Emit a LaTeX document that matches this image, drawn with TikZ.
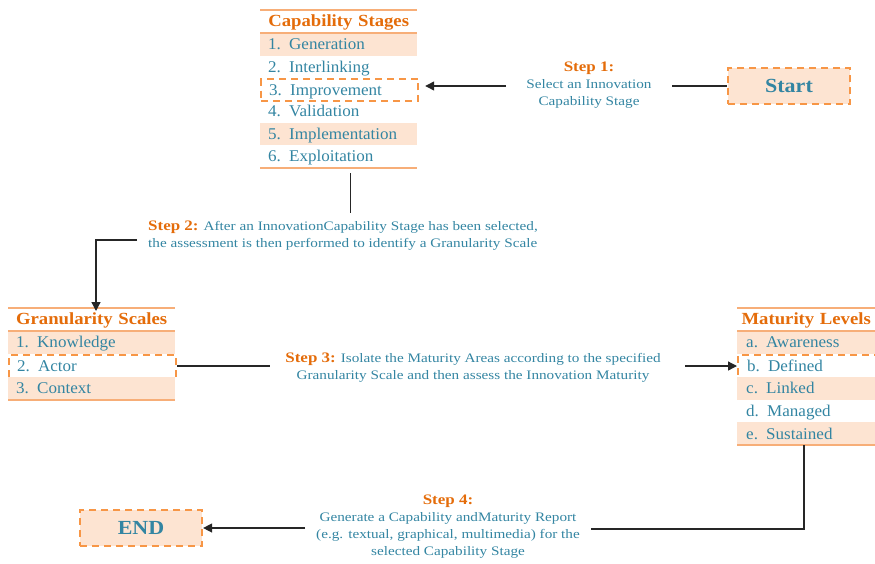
\documentclass[tikz,border=0pt]{standalone}
\usepackage{fontspec}
\setmainfont{Liberation Serif}
\newfontfamily\rowf{Liberation Serif}[FakeStretch=1.04]
\newfontfamily\ttlf{Liberation Serif}[FakeStretch=1.1]
\newfontfamily\stepf{Liberation Serif}[FakeStretch=1.17]
\usetikzlibrary{arrows.meta}
\definecolor{tealtxt}{HTML}{3385A2}
\definecolor{orgtxt}{HTML}{E46C0A}
\definecolor{peach}{HTML}{FDE4D2}
\definecolor{rulec}{HTML}{F7AE78}
\definecolor{dashc}{HTML}{F79646}
\newcommand{\stepttl}[1]{{\bfseries\color{orgtxt}\fontsize{14.5}{17}\selectfont #1}}
\tikzset{
  cell/.style={anchor=north west, inner ysep=0pt, inner xsep=8pt, text=tealtxt,
    font=\rowf\fontsize{16.4}{16.4}\selectfont, align=left, text height=13.5pt, text depth=3pt},
  capcell/.style={cell, text width=141pt, minimum height=22.4pt},
  grancell/.style={cell, text width=151pt, minimum height=23pt},
  matcell/.style={cell, inner xsep=9pt, text width=120pt, minimum height=22.8pt},
  ttl/.style={anchor=north west, inner sep=0pt, minimum height=23pt, align=center,
    text height=13.5pt, text depth=3pt,
    font=\ttlf\bfseries\fontsize{17}{17}\selectfont, text=orgtxt},
  filled/.style={fill=peach},
  sel/.style={draw=dashc, line width=2.2pt, dash pattern=on 7pt off 5pt},
  rulel/.style={draw=rulec, line width=2pt},
  termbox/.style={fill=peach, draw=dashc, line width=2.2pt, dash pattern=on 7pt off 5pt,
    minimum width=122pt, minimum height=36pt, inner sep=0pt, text=tealtxt,
    font=\ttlf\bfseries\fontsize{20}{20}\selectfont},
  stepnode/.style={inner sep=0pt, text=tealtxt, font=\stepf\fontsize{13}{17}\selectfont},
  conn/.style={draw=black!85, line width=1.3pt},
  arr/.style={conn, -{Triangle[length=9pt,width=9pt]}}
}
\begin{document}
\begin{tikzpicture}[x=1pt,y=-1pt]
\useasboundingbox (0,0) rectangle (875,563);
% Capability Stages
\node[ttl, text width=157pt] (capT) at (260,10) {Capability Stages};
\node[capcell, filled] (c1) at (260,33) {1. Generation};
\node[capcell] (c2) at (260,55.4) {2. Interlinking};
\node[capcell, sel] (c3) at (260,77.8) {3. Improvement};
\node[capcell] (c4) at (260,100.2) {4. Validation};
\node[capcell, filled] (c5) at (260,122.6) {5. Implementation};
\node[capcell] (c6) at (260,145) {6. Exploitation};
\draw[rulel] (capT.north west) -- (capT.north east);
\draw[rulel] (capT.south west) -- (capT.south east);
\draw[rulel] (c6.south west) -- (c6.south east);
% Granularity Scales
\node[ttl, text width=167pt] (gT) at (8,308) {Granularity Scales};
\node[grancell, filled] (g1) at (8,331) {1. Knowledge};
\node[grancell, sel] (g2) at (8,354) {2. Actor};
\node[grancell, filled] (g3) at (8,377) {3. Context};
\draw[rulel] (gT.north west) -- (gT.north east);
\draw[rulel] (gT.south west) -- (gT.south east);
\draw[rulel] (g3.south west) -- (g3.south east);
% Maturity Levels
\node[ttl, text width=138pt] (mT) at (737,308) {Maturity Levels};
\node[matcell, filled] (m1) at (737,331) {a. Awareness};
\node[matcell, sel] (m2) at (737,353.8) {b. Defined};
\node[matcell, filled] (m3) at (737,376.6) {c. Linked};
\node[matcell] (m4) at (737,399.4) {d. Managed};
\node[matcell, filled] (m5) at (737,422.2) {e. Sustained};
\draw[rulel] (mT.north west) -- (mT.north east);
\draw[rulel] (mT.south west) -- (mT.south east);
\draw[rulel] (m5.south west) -- (m5.south east);
% Terminals
\node[termbox] (start) at (789,86) {Start};
\node[termbox] (end) at (141,528) {END};
% Step 1
\node[stepnode, align=center] (s1) at (589,85) {\stepttl{Step 1:}\\ Select an Innovation\\ Capability Stage};
\coordinate (s1r) at (672,86);
\coordinate (s1l) at (506,86);
\draw[conn] (start.west |- s1r) -- (s1r);
\draw[arr] (s1l) -- ([xshift=6pt]c3.east |- s1l);
% Step 2
\node[stepnode, align=left, anchor=north west] (s2) at (148,221) {\stepttl{Step 2:} After an InnovationCapability Stage has been selected,\\ the assessment is then performed to identify a Granularity Scale};
\coordinate (s2a) at (350.5,173);
\coordinate (s2b) at (350.5,213);
\coordinate (s2c) at (137,240);
\coordinate (s2d) at (96,240);
\draw[conn] (s2a) -- (s2b);
\draw[arr] (s2c) -- (s2d) -- ([yshift=-3pt]s2d |- gT.north);
% Step 3
\node[stepnode, align=center] (s3) at (473,368) {\stepttl{Step 3:} Isolate the Maturity Areas according to the specified\\ Granularity Scale and then assess the Innovation Maturity};
\coordinate (s3l) at (270,366);
\coordinate (s3r) at (685,366);
\draw[conn] (g2.east |- s3l) -- (s3l);
\draw[arr] (s3r) -- (m2.west |- s3r);
% Step 4
\node[stepnode, align=center] (s4) at (448,527) {\stepttl{Step 4:}\\ Generate a Capability andMaturity Report\\ (e.g. textual, graphical, multimedia) for the\\ selected Capability Stage};
\coordinate (s4a) at (804,529);
\coordinate (s4b) at (591,529);
\coordinate (s4c) at (305,528);
\draw[conn] (m5.south -| s4a) -- (s4a) -- (s4b);
\draw[arr] (s4c) -- (end.east);
\end{tikzpicture}
\end{document}
